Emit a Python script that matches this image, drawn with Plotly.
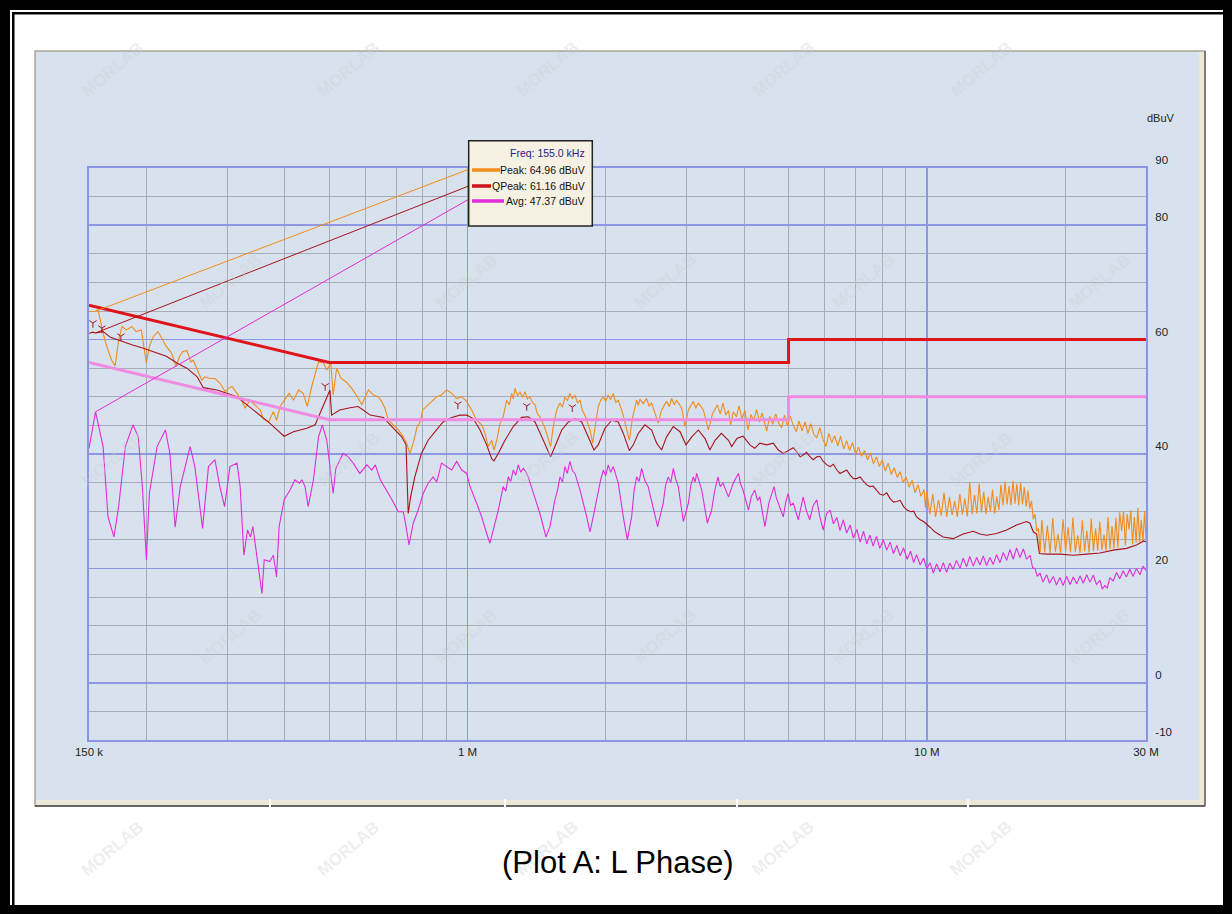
import math
import plotly.graph_objects as go

# ---------------- data (frequency in MHz, level in dBuV) ----------------
peak_points = [
    (0.150, 64.9), (0.153, 64.9), (0.155, 64.96), (0.157, 65.2), (0.158, 64.0), (0.161, 61.1), (0.164, 58.8),
    (0.168, 56.4), (0.171, 55.4), (0.174, 59.9), (0.177, 62.3), (0.181, 61.7), (0.186, 62.3), (0.190, 61.4),
    (0.195, 61.7), (0.200, 55.9), (0.203, 58.8), (0.207, 60.5), (0.212, 61.4), (0.216, 60.2), (0.221, 58.8),
    (0.227, 57.6), (0.232, 55.3), (0.236, 57.0), (0.240, 57.9), (0.245, 58.1), (0.250, 56.1), (0.253, 56.4),
    (0.258, 54.7), (0.264, 52.9), (0.268, 53.5), (0.275, 53.2), (0.282, 53.2), (0.289, 52.4), (0.297, 50.9),
    (0.302, 51.5), (0.307, 51.8), (0.315, 50.6), (0.323, 49.2), (0.328, 48.0), (0.336, 49.4), (0.345, 48.6),
    (0.354, 47.7), (0.359, 46.2), (0.369, 45.6), (0.378, 47.4), (0.384, 45.9), (0.391, 48.3), (0.399, 49.4),
    (0.409, 50.6), (0.418, 49.4), (0.429, 51.2), (0.439, 50.6), (0.448, 48.3), (0.458, 51.8), (0.466, 54.1),
    (0.474, 56.1), (0.486, 55.9), (0.494, 54.7), (0.504, 55.9), (0.510, 50.3), (0.519, 55.0), (0.530, 53.3),
    (0.546, 52.5), (0.562, 51.3), (0.578, 49.8), (0.589, 48.6), (0.599, 50.0), (0.609, 51.2), (0.624, 50.3),
    (0.640, 50.0), (0.650, 49.2), (0.661, 48.0), (0.673, 45.9), (0.689, 45.1), (0.707, 44.2), (0.725, 43.0),
    (0.737, 41.9), (0.749, 40.1), (0.762, 41.9), (0.777, 44.8), (0.789, 45.6), (0.799, 47.7), (0.815, 48.3),
    (0.836, 49.2), (0.857, 50.0), (0.878, 50.3), (0.900, 51.2), (0.924, 50.6), (0.947, 49.7), (0.972, 50.0),
    (0.996, 49.2), (1.021, 47.7), (1.047, 45.9), (1.074, 45.1), (1.092, 43.6), (1.110, 41.3), (1.129, 42.4),
    (1.142, 40.7), (1.158, 42.4), (1.177, 45.3), (1.196, 46.5), (1.217, 49.4), (1.233, 48.6), (1.248, 50.6),
    (1.258, 49.6), (1.269, 51.5), (1.285, 50.2), (1.301, 50.8), (1.318, 49.9), (1.334, 50.9), (1.350, 49.6),
    (1.368, 50.0), (1.385, 49.0), (1.403, 48.6), (1.420, 47.0), (1.438, 46.5), (1.475, 44.5), (1.499, 42.4),
    (1.517, 41.3), (1.537, 44.8), (1.564, 47.7), (1.590, 48.9), (1.610, 48.2), (1.630, 50.0), (1.650, 49.3),
    (1.671, 50.6), (1.692, 49.7), (1.714, 50.3), (1.736, 48.9), (1.758, 49.4), (1.780, 47.5), (1.802, 46.8),
    (1.848, 44.2), (1.873, 41.9), (1.895, 44.8), (1.926, 48.3), (1.950, 49.4), (1.976, 50.0), (2.000, 49.2),
    (2.025, 50.3), (2.050, 49.5), (2.077, 50.6), (2.103, 49.0), (2.130, 49.4), (2.178, 47.1), (2.221, 44.2),
    (2.251, 42.4), (2.289, 46.5), (2.335, 49.4), (2.354, 48.5), (2.374, 49.6), (2.414, 48.8), (2.454, 49.7),
    (2.485, 48.4), (2.517, 48.9), (2.561, 47.1), (2.602, 45.4), (2.646, 47.7), (2.680, 48.4), (2.713, 49.2),
    (2.750, 48.3), (2.783, 49.7), (2.820, 48.6), (2.854, 49.4), (2.927, 48.0), (2.975, 44.8), (3.026, 47.7),
    (3.065, 48.6), (3.102, 49.2), (3.140, 48.0), (3.181, 48.9), (3.262, 47.7), (3.345, 44.2), (3.417, 47.1),
    (3.50, 48.6), (3.55, 47.0), (3.60, 48.9), (3.65, 46.8), (3.70, 47.6), (3.74, 45.1), (3.79, 47.4),
    (3.85, 46.5), (3.90, 48.4), (3.96, 46.2), (4.02, 47.6), (4.08, 44.2), (4.14, 46.9), (4.20, 45.8),
    (4.26, 47.8), (4.32, 45.6), (4.38, 47.2), (4.44, 45.3), (4.48, 44.0), (4.55, 46.6), (4.62, 45.2),
    (4.69, 47.0), (4.76, 45.4), (4.83, 44.6), (4.90, 46.8), (4.97, 44.9), (5.04, 46.6), (5.12, 45.0),
    (5.20, 43.9), (5.27, 45.8), (5.35, 44.0), (5.43, 45.6), (5.51, 43.6), (5.59, 45.3), (5.68, 43.4),
    (5.76, 42.8), (5.85, 44.6), (5.94, 42.6), (6.03, 41.3), (6.12, 43.6), (6.21, 42.0), (6.30, 43.2),
    (6.40, 41.4), (6.49, 43.1), (6.59, 40.9), (6.69, 42.3), (6.79, 40.6), (6.89, 42.0), (7.00, 39.9),
    (7.10, 41.2), (7.21, 39.6), (7.32, 40.6), (7.43, 39.0), (7.54, 40.2), (7.65, 38.3), (7.77, 39.5),
    (7.88, 37.8), (8.00, 39.0), (8.12, 37.0), (8.24, 38.4), (8.37, 36.4), (8.49, 37.6), (8.62, 35.9),
    (8.75, 36.9), (8.88, 35.0), (9.01, 36.0), (9.15, 34.2), (9.29, 35.4), (9.43, 33.2), (9.57, 34.6),
    (9.71, 32.6), (9.86, 33.8), (9.93, 30.6),
    (10.0, 33.5), (10.15, 29.5), (10.3, 33.0), (10.45, 29.0), (10.6, 32.0), (10.75, 29.2), (10.9, 33.2),
    (11.05, 29.0), (11.2, 32.5), (11.35, 29.3), (11.5, 31.8), (11.65, 29.0), (11.8, 33.0), (11.95, 29.4),
    (12.1, 32.2), (12.25, 29.1), (12.4, 35.0), (12.55, 29.5), (12.7, 32.8), (12.85, 29.6), (13.0, 34.8),
    (13.15, 29.8), (13.3, 33.4), (13.45, 29.5), (13.6, 32.5), (13.75, 30.0), (13.9, 33.8), (14.05, 29.6),
    (14.2, 32.6), (14.35, 30.2), (14.5, 34.6), (14.65, 31.0), (14.8, 35.2), (14.95, 31.2), (15.1, 34.4),
    (15.25, 31.0), (15.4, 35.3), (15.55, 31.3), (15.7, 34.8), (15.85, 31.0), (16.0, 35.0), (16.15, 31.2),
    (16.3, 34.2), (16.45, 30.8), (16.6, 33.6), (16.75, 30.5), (16.9, 31.8), (17.05, 28.6), (17.2, 29.5),
    (17.35, 26.5), (17.5, 27.0), (17.65, 22.8), (17.8, 28.5), (18.05, 22.8), (18.3, 27.5), (18.55, 22.7),
    (18.8, 28.8), (19.05, 22.9), (19.3, 26.0), (19.55, 22.7), (19.8, 28.6), (20.05, 23.0), (20.3, 27.2),
    (20.55, 22.8), (20.8, 28.9), (21.05, 22.9), (21.3, 25.8), (21.55, 22.7), (21.8, 28.4), (22.05, 23.0),
    (22.3, 26.6), (22.55, 22.8), (22.8, 28.7), (23.05, 23.0), (23.3, 27.0), (23.55, 23.1), (23.8, 28.2),
    (24.05, 23.2), (24.3, 25.9), (24.55, 23.1), (24.8, 29.0), (25.05, 23.4), (25.3, 27.4), (25.55, 23.5),
    (25.8, 28.9), (26.05, 23.6), (26.3, 29.8), (26.55, 26.5), (26.8, 30.0), (27.05, 24.0), (27.3, 29.5),
    (27.55, 26.8), (27.8, 30.2), (28.05, 24.2), (28.3, 29.0), (28.55, 24.5), (28.8, 30.6), (29.05, 24.6),
    (29.3, 28.5), (29.55, 24.8), (29.8, 30.0), (30.0, 25.0),
]

qpeak_points = [
    (0.150, 61.1), (0.153, 61.3), (0.155, 61.16), (0.161, 61.4), (0.167, 60.4), (0.175, 59.8), (0.186, 59.1),
    (0.197, 58.5), (0.207, 57.9), (0.221, 57.1), (0.233, 55.9), (0.245, 55.0), (0.258, 53.5), (0.266, 51.6),
    (0.285, 51.2), (0.299, 50.6), (0.315, 50.0), (0.331, 48.6), (0.354, 46.8), (0.371, 45.4), (0.384, 44.3),
    (0.399, 43.1), (0.418, 43.9), (0.447, 44.5), (0.466, 45.1), (0.478, 47.1), (0.494, 50.0), (0.502, 51.2),
    (0.506, 46.8), (0.527, 47.7), (0.555, 48.1), (0.578, 48.3), (0.593, 47.7), (0.614, 46.8), (0.635, 46.6),
    (0.656, 46.4), (0.679, 45.1), (0.702, 43.9), (0.719, 43.0), (0.735, 41.6), (0.743, 29.6), (0.752, 32.5),
    (0.768, 36.0), (0.794, 40.1), (0.821, 42.4), (0.850, 43.9), (0.885, 45.6), (0.924, 46.4), (0.964, 46.8),
    (0.996, 46.8), (1.029, 46.2), (1.065, 44.2), (1.101, 41.6), (1.129, 39.2), (1.142, 38.8), (1.167, 40.1),
    (1.207, 42.4), (1.258, 44.8), (1.312, 46.4), (1.356, 46.5), (1.403, 45.6), (1.451, 43.0), (1.499, 40.4),
    (1.517, 39.5), (1.550, 41.3), (1.604, 44.2), (1.658, 45.6), (1.714, 46.2), (1.773, 45.6), (1.833, 43.0),
    (1.885, 40.7), (1.926, 41.6), (1.992, 44.5), (2.061, 45.9), (2.130, 45.6), (2.184, 43.6), (2.251, 40.6),
    (2.296, 41.6), (2.354, 43.6), (2.434, 45.1), (2.517, 44.2), (2.581, 41.9), (2.646, 40.7), (2.713, 43.0),
    (2.806, 44.8), (2.902, 43.9), (2.990, 41.6), (3.078, 43.0), (3.181, 44.2), (3.290, 42.7), (3.37, 40.7),
    (3.46, 42.4), (3.57, 43.6), (3.70, 42.4), (3.76, 41.3), (3.86, 42.7), (3.98, 43.1), (4.12, 41.6),
    (4.22, 41.0), (4.33, 41.9), (4.48, 41.6), (4.63, 41.9), (4.75, 40.7), (4.87, 40.1), (5.04, 40.7),
    (5.12, 41.1), (5.21, 40.4), (5.30, 39.5), (5.38, 39.8), (5.47, 40.3), (5.56, 39.6), (5.66, 39.0),
    (5.76, 39.5), (5.85, 39.6), (5.95, 38.7), (6.06, 38.1), (6.16, 37.8), (6.26, 38.2), (6.37, 37.2),
    (6.47, 36.6), (6.58, 36.9), (6.69, 37.2), (6.81, 36.3), (6.92, 35.7), (7.04, 35.7), (7.16, 36.0),
    (7.28, 35.2), (7.40, 34.6), (7.52, 34.3), (7.64, 34.4), (7.77, 33.7), (7.90, 33.0), (8.04, 32.8),
    (8.18, 33.2), (8.32, 32.2), (8.46, 31.6), (8.60, 31.7), (8.75, 31.9), (8.90, 30.8), (9.06, 30.2),
    (9.22, 29.9), (9.36, 30.0), (9.50, 29.0), (9.67, 28.5), (9.84, 28.2), (10.0, 27.6), (10.16, 27.2),
    (10.41, 26.4), (10.85, 25.5), (11.41, 25.2), (12.00, 26.0), (12.62, 26.5), (13.05, 26.0), (13.49, 25.8),
    (14.19, 26.1), (14.92, 26.7), (15.68, 27.6), (16.49, 28.2), (16.77, 27.9), (17.05, 26.4), (17.34, 26.0),
    (17.58, 22.6), (18.23, 22.5), (19.49, 22.5), (20.84, 22.3), (22.28, 22.5), (23.82, 22.7), (25.46, 23.2),
    (27.22, 23.5), (28.60, 24.1), (29.66, 24.8), (30.0, 24.6),
]

avg_points = [
    (0.150, 41.0), (0.155, 47.37), (0.161, 41.3), (0.165, 29.0), (0.170, 25.5), (0.174, 30.8), (0.180, 41.3),
    (0.187, 45.1), (0.192, 43.0), (0.196, 34.3), (0.200, 21.5), (0.203, 33.1), (0.211, 41.3), (0.220, 44.2),
    (0.225, 40.1), (0.231, 27.2), (0.237, 34.3), (0.249, 41.3), (0.255, 37.8), (0.265, 27.0), (0.273, 37.8),
    (0.282, 39.0), (0.289, 34.3), (0.296, 30.8), (0.304, 37.8), (0.315, 38.4), (0.320, 34.3), (0.326, 22.3),
    (0.332, 26.7), (0.337, 25.5), (0.341, 27.3), (0.348, 22.0), (0.357, 15.6), (0.361, 21.5), (0.371, 21.2),
    (0.378, 22.3), (0.384, 18.5), (0.389, 27.3), (0.399, 32.0), (0.411, 33.7), (0.421, 35.5), (0.431, 34.9),
    (0.436, 35.5), (0.443, 34.3), (0.450, 30.8), (0.462, 35.5), (0.474, 43.0), (0.483, 45.1), (0.494, 42.4),
    (0.502, 37.8), (0.510, 33.1), (0.517, 37.5), (0.536, 40.1), (0.550, 39.5), (0.564, 38.4), (0.583, 36.6),
    (0.604, 38.1), (0.619, 37.2), (0.630, 38.1), (0.646, 35.5), (0.667, 33.7), (0.685, 32.0), (0.707, 29.9),
    (0.725, 29.9), (0.735, 27.3), (0.746, 24.1), (0.762, 27.9), (0.781, 30.2), (0.801, 33.1), (0.821, 34.9),
    (0.842, 36.0), (0.857, 35.1), (0.878, 38.4), (0.900, 37.8), (0.924, 37.2), (0.947, 38.7), (0.972, 37.2),
    (0.996, 36.6), (1.013, 34.3), (1.047, 31.4), (1.074, 29.0), (1.101, 26.1), (1.119, 24.4), (1.138, 26.7),
    (1.167, 30.2), (1.196, 34.3), (1.212, 33.5), (1.227, 36.0), (1.242, 35.2), (1.258, 37.2), (1.274, 36.3),
    (1.290, 38.1), (1.306, 36.8), (1.323, 37.5), (1.340, 36.9), (1.356, 36.0), (1.391, 33.1), (1.438, 29.6),
    (1.482, 25.5), (1.512, 27.3), (1.550, 32.0), (1.570, 33.6), (1.590, 36.0), (1.610, 35.1), (1.630, 37.8),
    (1.650, 36.6), (1.671, 38.7), (1.692, 37.1), (1.714, 36.6), (1.758, 33.7), (1.818, 29.0), (1.848, 26.4),
    (1.878, 29.0), (1.926, 33.7), (1.950, 35.5), (1.976, 37.2), (2.000, 36.2), (2.025, 38.1), (2.050, 36.8),
    (2.077, 37.8), (2.103, 36.3), (2.130, 34.9), (2.184, 29.0), (2.228, 25.0), (2.277, 29.0), (2.305, 33.6),
    (2.335, 36.0), (2.364, 35.2), (2.394, 37.5), (2.434, 35.3), (2.474, 34.3), (2.537, 30.8), (2.594, 27.3),
    (2.667, 31.4), (2.700, 34.5), (2.736, 36.0), (2.770, 35.0), (2.806, 37.5), (2.840, 35.6), (2.877, 34.3),
    (2.951, 28.2), (3.026, 31.4), (3.065, 34.6), (3.102, 36.0), (3.130, 35.1), (3.155, 36.6), (3.195, 35.0),
    (3.236, 33.7), (3.328, 27.9), (3.40, 30.2), (3.45, 33.4), (3.51, 36.0), (3.55, 34.3), (3.60, 34.9),
    (3.70, 32.5), (3.79, 34.9), (3.84, 35.8), (3.89, 36.6), (3.93, 34.8), (3.98, 33.7), (4.09, 30.2),
    (4.15, 32.6), (4.22, 33.7), (4.28, 31.9), (4.33, 32.5), (4.44, 27.3), (4.53, 31.4), (4.59, 33.0),
    (4.65, 34.3), (4.70, 32.4), (4.75, 31.4), (4.87, 29.0), (4.93, 31.6), (4.99, 33.1), (5.05, 31.0),
    (5.12, 31.4), (5.25, 28.5), (5.32, 30.6), (5.38, 32.5), (5.47, 30.0), (5.56, 28.5), (5.66, 31.0),
    (5.76, 32.0), (5.85, 29.0), (5.95, 26.7), (6.05, 29.6), (6.16, 30.2),
    (6.26, 27.8), (6.37, 28.9), (6.47, 26.6), (6.58, 28.5), (6.69, 26.2), (6.81, 27.6), (6.92, 25.3),
    (7.04, 26.8), (7.16, 24.6), (7.28, 26.5), (7.40, 24.3), (7.52, 25.8), (7.64, 23.9), (7.77, 25.6),
    (7.90, 23.5), (8.04, 25.0), (8.18, 23.2), (8.32, 24.6), (8.46, 22.6), (8.60, 24.0), (8.75, 22.2),
    (8.90, 23.6), (9.06, 21.6), (9.22, 23.0), (9.36, 21.0), (9.50, 22.4), (9.67, 20.6), (9.84, 21.8),
    (10.0, 19.9), (10.16, 21.0), (10.33, 19.2), (10.5, 20.8), (10.68, 19.4), (10.86, 21.0), (11.04, 19.3),
    (11.22, 20.9), (11.41, 19.8), (11.6, 21.4), (11.81, 20.0), (12.0, 21.8), (12.21, 20.3), (12.4, 22.1),
    (12.62, 20.4), (12.84, 21.9), (13.05, 20.6), (13.27, 22.2), (13.49, 20.5), (13.72, 21.9), (13.95, 20.7),
    (14.19, 22.4), (14.43, 21.0), (14.67, 22.8), (14.92, 21.4), (15.17, 23.3), (15.42, 21.6), (15.68, 23.6),
    (15.95, 21.9), (16.22, 23.4), (16.49, 21.6), (16.77, 22.3), (17.0, 20.1), (17.19, 20.0), (17.4, 18.6),
    (17.63, 19.2), (17.9, 17.6), (18.23, 18.9), (18.5, 17.4), (18.85, 18.6), (19.15, 17.1), (19.49, 18.4),
    (19.8, 17.0), (20.16, 18.6), (20.5, 17.2), (20.84, 18.5), (21.2, 17.3), (21.55, 18.7), (21.9, 17.4),
    (22.28, 18.9), (22.65, 17.6), (23.04, 18.8), (23.4, 17.2), (23.82, 17.9), (24.1, 16.4), (24.41, 17.0),
    (24.7, 16.6), (25.03, 18.4), (25.45, 17.8), (25.88, 19.3), (26.3, 18.2), (26.75, 19.6), (27.2, 18.5),
    (27.66, 19.9), (28.1, 18.6), (28.6, 20.0), (29.1, 18.9), (29.56, 20.4), (30.0, 19.6),
]

qp_limit_freq = [0.15, 0.5, 5.0, 5.0, 30.0]
qp_limit_dbuv = [66, 56, 56, 60, 60]
av_limit_freq = [0.15, 0.5, 5.0, 5.0, 30.0]
av_limit_dbuv = [56, 46, 46, 50, 50]

qp_marker_points = [(0.153, 62.9), (0.160, 62.0), (0.176, 60.6), (0.490, 51.9), (0.953, 48.7), (1.346, 48.4), (1.691, 48.2)]

marker_freq_khz = 155.0
marker_peak = 64.96
marker_qpeak = 61.16
marker_avg = 47.37

x_tick_vals = [0.15, 1, 10, 30]
x_tick_text = ["150 k", "1 M", "10 M", "30 M"]
x_minor_vals = [0.2, 0.3, 0.4, 0.5, 0.6, 0.7, 0.8, 0.9, 2, 3, 4, 5, 6, 7, 8, 9, 20]
y_tick_vals = [-10, 0, 20, 40, 60, 80, 90]
y_tick_text = ["-10", "0", "20", "40", "60", "80", "90"]
y_minor_vals = [-5, 5, 10, 15, 25, 30, 35, 45, 50, 55, 65, 70, 75, 85]

title_text = "(Plot A: L Phase)"
unit_text = "dBuV"
watermark_text = "MORLAB"

# ---------------- layout geometry (pixels) ----------------
W, H = 1232, 914
PL, PR, PT, PB = 89, 1146, 168, 740
X_LOG0, X_LOG1 = math.log10(0.15), math.log10(30)
Y0, Y1 = -10, 90


def pxx(px):
    return (px - PL) / (PR - PL)


def pxy(py):
    return (PB - py) / (PB - PT)


def px_to_freq(px):
    return 10 ** (X_LOG0 + (px - PL) / (PR - PL) * (X_LOG1 - X_LOG0))


def px_to_db(py):
    return Y0 + (PB - py) / (PB - PT) * (Y1 - Y0)


def prect(x0, y0, x1, y1, **kw):
    return dict(type="rect", xref="paper", yref="paper", x0=pxx(x0), x1=pxx(x1), y0=pxy(y1), y1=pxy(y0), **kw)


def pline(x0, y0, x1, y1, **kw):
    return dict(type="line", xref="paper", yref="paper", x0=pxx(x0), x1=pxx(x1), y0=pxy(y0), y1=pxy(y1), **kw)


PANEL = "#d7e2ee"
MAJOR = "#8e97e2"
MINOR = "#a6acba"
FRAME = "#8a93e4"
C_PEAK = "#f28c1c"
C_QP = "#a8141c"
C_AVG = "#e22cd8"
C_QPLIM = "#e0141a"
C_AVLIM = "#f08ae2"
SANS = "Liberation Sans Narrow, Liberation Sans, Arial, sans-serif"

fig = go.Figure()


def unzip(points):
    return [p[0] for p in points], [p[1] for p in points]


af, av = unzip(avg_points)
qf, qv = unzip(qpeak_points)
pf, pv = unzip(peak_points)
mf, mv = unzip(qp_marker_points)

fig.add_trace(go.Scatter(x=af, y=av, mode="lines", line=dict(color=C_AVG, width=1.1), name="Avg"))
fig.add_trace(go.Scatter(x=pf, y=pv, mode="lines", line=dict(color=C_PEAK, width=1.1), name="Peak"))
fig.add_trace(go.Scatter(x=qf, y=qv, mode="lines", line=dict(color=C_QP, width=1.1), name="QPeak"))
fig.add_trace(go.Scatter(x=mf, y=mv, mode="markers",
                         marker=dict(symbol="y-down-open", size=6, line=dict(color=C_QP, width=1), color=C_QP),
                         name="QP points"))

fig.add_trace(go.Scatter(x=av_limit_freq, y=av_limit_dbuv, mode="lines",
                         line=dict(color=C_AVLIM, width=3), name="AV limit"))
fig.add_trace(go.Scatter(x=qp_limit_freq, y=qp_limit_dbuv, mode="lines",
                         line=dict(color=C_QPLIM, width=3), name="QP limit"))

# marker info box geometry (pixels)
BOX_L, BOX_T, BOX_R, BOX_B = 468.7, 140.7, 592.3, 226.0
ROW_FREQ, ROW_PEAK, ROW_QP, ROW_AVG = 153.3, 170.0, 186.0, 201.0
TEXT_R = 587.0

marker_f = marker_freq_khz / 1000.0
for val, row_y, col in [(marker_peak, 169.3, C_PEAK), (marker_qpeak, 186.0, C_QP), (marker_avg, 199.3, C_AVG)]:
    fig.add_trace(go.Scatter(x=[marker_f, px_to_freq(BOX_L)], y=[val, px_to_db(row_y)], mode="lines",
                             line=dict(color=col, width=1), hoverinfo="skip"))

shapes = [
    prect(0, 0, W, H, fillcolor="black", line=dict(width=0), layer="below"),
    prect(10, 10, 1223, 905, fillcolor="white", line=dict(width=0), layer="below"),
    prect(12, 12, 1223, 905, fillcolor="black", line=dict(width=0), layer="below"),
    prect(14.5, 14.5, 1223, 905, fillcolor="white", line=dict(width=0), layer="below"),
    prect(35, 51, 1205, 806, fillcolor=PANEL, line=dict(color="#a9a596", width=1.5), layer="below"),
    prect(1199, 52, 1204, 805, fillcolor="#ebe8d8", line=dict(width=0), layer="below"),
    prect(36, 800, 1204, 805, fillcolor="#ebe8d8", line=dict(width=0), layer="below"),
    pline(35, 806, 1205, 806, line=dict(color="#4a4a4a", width=1.5), layer="below"),
    pline(1205, 51, 1205, 806, line=dict(color="#6a6a6a", width=1.5), layer="below"),
]
for sx in [270, 505, 737, 968]:
    shapes.append(pline(sx, 799, sx, 807, line=dict(color="white", width=2), layer="below"))
shapes += [
    # marker info box
    prect(BOX_L, BOX_T, BOX_R, BOX_B, fillcolor="#f6f1e2", line=dict(color="#222222", width=1.5), layer="above"),
    pline(472, ROW_PEAK, 500, ROW_PEAK, line=dict(color=C_PEAK, width=3.5), layer="above"),
    pline(472, ROW_QP, 491, ROW_QP, line=dict(color="#d01018", width=3.5), layer="above"),
    pline(472, ROW_AVG, 504, ROW_AVG, line=dict(color=C_AVG, width=3.5), layer="above"),
]

LEG = 10.5
annotations = []
# faint diagonal watermarks
for r in range(5):
    wy = 35 + r * 212
    off = 118 if r % 2 else 0
    for k in range(6):
        wx = 75 + off + k * 236
        if wx > 1215:
            continue
        annotations.append(dict(text=f"<b>{watermark_text}</b>", x=pxx(wx), y=pxy(wy), xref="paper", yref="paper",
                                showarrow=False, textangle=-40,
                                font=dict(family="Liberation Sans, Arial, sans-serif", size=17,
                                          color="rgba(205,208,214,0.35)")))

annotations += [
    dict(text=f"Freq: {marker_freq_khz:.1f} kHz", x=pxx(TEXT_R), y=pxy(ROW_FREQ), xref="paper", yref="paper",
         xanchor="right", yanchor="middle", showarrow=False, font=dict(family=SANS, size=LEG, color="#24248a")),
    dict(text=f"Peak: {marker_peak:.2f} dBuV", x=pxx(TEXT_R), y=pxy(ROW_PEAK), xref="paper", yref="paper",
         xanchor="right", yanchor="middle", showarrow=False, font=dict(family=SANS, size=LEG, color="#111111")),
    dict(text=f"QPeak: {marker_qpeak:.2f} dBuV", x=pxx(TEXT_R), y=pxy(ROW_QP), xref="paper", yref="paper",
         xanchor="right", yanchor="middle", showarrow=False, font=dict(family=SANS, size=LEG, color="#111111")),
    dict(text=f"Avg: {marker_avg:.2f} dBuV", x=pxx(TEXT_R), y=pxy(ROW_AVG), xref="paper", yref="paper",
         xanchor="right", yanchor="middle", showarrow=False, font=dict(family=SANS, size=LEG, color="#111111")),
    dict(text=unit_text, x=pxx(1161), y=pxy(118), xref="paper", yref="paper", xanchor="center", yanchor="middle",
         showarrow=False, font=dict(family=SANS, size=11, color="#222222")),
    dict(text=title_text, x=pxx(617), y=pxy(862), xref="paper", yref="paper", xanchor="center", yanchor="middle",
         showarrow=False, font=dict(family="Liberation Sans, Arial, sans-serif", size=31, color="black")),
]

fig.update_layout(
    width=W, height=H,
    margin=dict(l=PL, r=W - PR, t=PT, b=H - PB, pad=0),
    paper_bgcolor="white",
    plot_bgcolor=PANEL,
    showlegend=False,
    shapes=shapes,
    annotations=annotations,
    xaxis=dict(
        type="log", range=[X_LOG0, X_LOG1],
        tickmode="array", tickvals=x_tick_vals, ticktext=x_tick_text,
        showgrid=True, gridcolor=MAJOR, gridwidth=1.5,
        minor=dict(tickmode="array", tickvals=x_minor_vals, showgrid=True, gridcolor=MINOR, gridwidth=1, ticklen=0),
        showline=True, mirror=True, linecolor=FRAME, linewidth=2,
        ticks="", ticklabelstandoff=0,
        tickfont=dict(family=SANS, size=11.5, color="#222222"),
        zeroline=False, fixedrange=True,
    ),
    yaxis=dict(
        range=[Y0, Y1], side="right",
        tickmode="array", tickvals=y_tick_vals, ticktext=y_tick_text,
        showgrid=True, gridcolor=MAJOR, gridwidth=1.5,
        minor=dict(tickmode="array", tickvals=y_minor_vals, showgrid=True, gridcolor=MINOR, gridwidth=1, ticklen=0),
        showline=True, mirror=True, linecolor=FRAME, linewidth=2,
        ticks="", ticklabelstandoff=5, ticklabelshift=-8,
        tickfont=dict(family=SANS, size=11.5, color="#222222"),
        zeroline=False, fixedrange=True,
    ),
)

fig.write_html("out.html", config={"displayModeBar": False, "staticPlot": True},
               post_script="document.body.style.margin='0';document.body.style.overflow='hidden';")
